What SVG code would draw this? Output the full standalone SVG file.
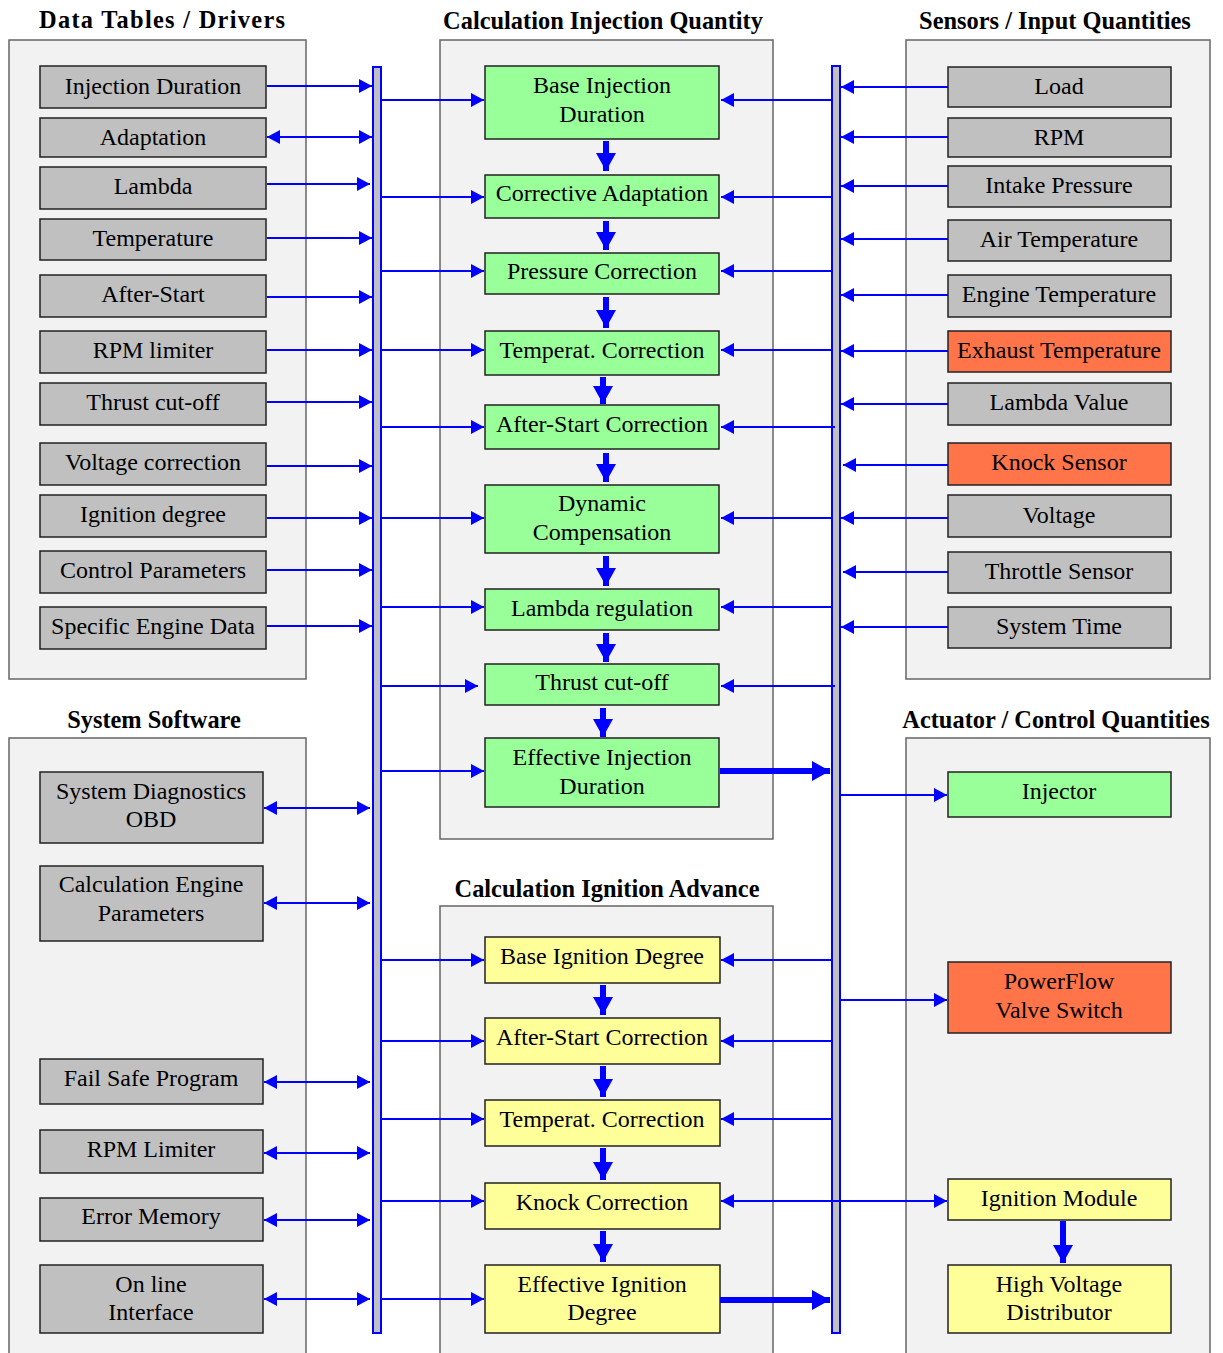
<svg xmlns="http://www.w3.org/2000/svg" width="1223" height="1353" viewBox="0 0 1223 1353">
<style>
.panel{fill:#F2F2F2;stroke:#666;stroke-width:1.5}
.g{fill:#C0C0C0;stroke:#222;stroke-width:1.5}
.gr{fill:#99FF99;stroke:#222;stroke-width:1.5}
.y{fill:#FFFF99;stroke:#222;stroke-width:1.5}
.o{fill:#FF7448;stroke:#222;stroke-width:1.5}
.bus{fill:#C0C0C0;stroke:#0000FF;stroke-width:2}
text{font-family:"Liberation Serif","Times New Roman",serif;font-size:24px;fill:#000;text-anchor:middle}
.t{font-weight:bold;font-size:24.4px}
.c line{stroke:#0000FF;stroke-width:2}
.c line.k{stroke-width:6}
</style>
<defs>
<marker id="a" markerUnits="userSpaceOnUse" markerWidth="13" markerHeight="14" refX="13" refY="7" orient="auto-start-reverse"><path d="M0,0 L13,7 L0,14 z" fill="#0000FF"/></marker>
<marker id="b" markerUnits="userSpaceOnUse" markerWidth="18" markerHeight="20" refX="18" refY="10" orient="auto"><path d="M0,0 L18,10 L0,20 z" fill="#0000FF"/></marker>
</defs>
<rect width="1223" height="1353" fill="#fff"/>
<g id="panels">
<rect class="panel" x="9" y="40" width="297" height="639"/>
<rect class="panel" x="440" y="40" width="333" height="799"/>
<rect class="panel" x="906" y="40" width="304" height="639"/>
<rect class="panel" x="9" y="738" width="297" height="630"/>
<rect class="panel" x="440" y="906" width="333" height="462"/>
<rect class="panel" x="906" y="738" width="304" height="630"/>
</g>
<g id="titles">
<text class="t" x="162" y="28" textLength="246">Data Tables / Drivers</text>
<text class="t" x="603" y="29">Calculation Injection Quantity</text>
<text class="t" x="1055" y="29">Sensors / Input Quantities</text>
<text class="t" x="154" y="728">System Software</text>
<text class="t" x="1056" y="728">Actuator / Control Quantities</text>
<text class="t" x="607" y="897">Calculation Ignition Advance</text>
</g>
<g id="bus-left"><rect class="bus" x="373" y="67" width="8" height="1266"/></g>
<g id="bus-right"><rect class="bus" x="832" y="66" width="8" height="1267"/></g>
<g id="n-injdur"><rect class="g" x="40" y="66" width="226" height="42"/><text x="153" y="94">Injection Duration</text></g>
<g id="n-adapt"><rect class="g" x="40" y="118" width="226" height="39"/><text x="153" y="145">Adaptation</text></g>
<g id="n-lambda"><rect class="g" x="40" y="167" width="226" height="42"/><text x="153" y="194">Lambda</text></g>
<g id="n-temp"><rect class="g" x="40" y="219" width="226" height="41"/><text x="153" y="246">Temperature</text></g>
<g id="n-afterstart"><rect class="g" x="40" y="275" width="226" height="42"/><text x="153" y="302">After-Start</text></g>
<g id="n-rpmlim"><rect class="g" x="40" y="331" width="226" height="42"/><text x="153" y="358">RPM limiter</text></g>
<g id="n-thrust"><rect class="g" x="40" y="383" width="226" height="42"/><text x="153" y="410">Thrust cut-off</text></g>
<g id="n-voltcorr"><rect class="g" x="40" y="443" width="226" height="42"/><text x="153" y="470">Voltage correction</text></g>
<g id="n-igndeg"><rect class="g" x="40" y="495" width="226" height="42"/><text x="153" y="522">Ignition degree</text></g>
<g id="n-ctrl"><rect class="g" x="40" y="551" width="226" height="42"/><text x="153" y="578">Control Parameters</text></g>
<g id="n-spec"><rect class="g" x="40" y="607" width="226" height="42"/><text x="153" y="634">Specific Engine Data</text></g>
<g id="n-base"><rect class="gr" x="485" y="66" width="234" height="73"/><text x="602" y="93">Base Injection</text><text x="602" y="122">Duration</text></g>
<g id="n-corr"><rect class="gr" x="485" y="175" width="234" height="43"/><text x="602" y="201">Corrective Adaptation</text></g>
<g id="n-press"><rect class="gr" x="485" y="253" width="234" height="41"/><text x="602" y="279">Pressure Correction</text></g>
<g id="n-tcorr"><rect class="gr" x="485" y="331" width="234" height="44"/><text x="602" y="358">Temperat. Correction</text></g>
<g id="n-ascorr"><rect class="gr" x="485" y="405" width="234" height="44"/><text x="602" y="432">After-Start Correction</text></g>
<g id="n-dyn"><rect class="gr" x="485" y="485" width="234" height="68"/><text x="602" y="511">Dynamic</text><text x="602" y="540">Compensation</text></g>
<g id="n-lreg"><rect class="gr" x="485" y="589" width="234" height="41"/><text x="602" y="616">Lambda regulation</text></g>
<g id="n-tco"><rect class="gr" x="485" y="664" width="234" height="41"/><text x="602" y="690">Thrust cut-off</text></g>
<g id="n-eff"><rect class="gr" x="485" y="738" width="234" height="69"/><text x="602" y="765">Effective Injection</text><text x="602" y="794">Duration</text></g>
<g id="n-load"><rect class="g" x="948" y="67" width="223" height="40"/><text x="1059" y="94">Load</text></g>
<g id="n-rpm"><rect class="g" x="948" y="118" width="223" height="39"/><text x="1059" y="145">RPM</text></g>
<g id="n-intake"><rect class="g" x="948" y="166" width="223" height="41"/><text x="1059" y="193">Intake Pressure</text></g>
<g id="n-air"><rect class="g" x="948" y="220" width="223" height="41"/><text x="1059" y="247">Air Temperature</text></g>
<g id="n-eng"><rect class="g" x="948" y="275" width="223" height="42"/><text x="1059" y="302">Engine Temperature</text></g>
<g id="n-exh"><rect class="o" x="948" y="331" width="223" height="41"/><text x="1059" y="358">Exhaust Temperature</text></g>
<g id="n-lval"><rect class="g" x="948" y="383" width="223" height="42"/><text x="1059" y="410">Lambda Value</text></g>
<g id="n-knock"><rect class="o" x="948" y="443" width="223" height="42"/><text x="1059" y="470">Knock Sensor</text></g>
<g id="n-volt"><rect class="g" x="948" y="495" width="223" height="42"/><text x="1059" y="523">Voltage</text></g>
<g id="n-throttle"><rect class="g" x="948" y="552" width="223" height="41"/><text x="1059" y="579">Throttle Sensor</text></g>
<g id="n-time"><rect class="g" x="948" y="607" width="223" height="41"/><text x="1059" y="634">System Time</text></g>
<g id="n-diag"><rect class="g" x="40" y="772" width="223" height="71"/><text x="151" y="799">System Diagnostics</text><text x="151" y="827">OBD</text></g>
<g id="n-calc"><rect class="g" x="40" y="866" width="223" height="75"/><text x="151" y="892">Calculation Engine</text><text x="151" y="921">Parameters</text></g>
<g id="n-fail"><rect class="g" x="40" y="1059" width="223" height="45"/><text x="151" y="1086">Fail Safe Program</text></g>
<g id="n-rpml"><rect class="g" x="40" y="1130" width="223" height="43"/><text x="151" y="1157">RPM Limiter</text></g>
<g id="n-err"><rect class="g" x="40" y="1198" width="223" height="43"/><text x="151" y="1224">Error Memory</text></g>
<g id="n-online"><rect class="g" x="40" y="1265" width="223" height="68"/><text x="151" y="1292">On line</text><text x="151" y="1320">Interface</text></g>
<g id="n-bign"><rect class="y" x="485" y="937" width="235" height="46"/><text x="602" y="964">Base Ignition Degree</text></g>
<g id="n-asign"><rect class="y" x="485" y="1018" width="235" height="46"/><text x="602" y="1045">After-Start Correction</text></g>
<g id="n-tign"><rect class="y" x="485" y="1100" width="235" height="46"/><text x="602" y="1127">Temperat. Correction</text></g>
<g id="n-kcorr"><rect class="y" x="485" y="1183" width="235" height="46"/><text x="602" y="1210">Knock Correction</text></g>
<g id="n-effign"><rect class="y" x="485" y="1265" width="235" height="68"/><text x="602" y="1292">Effective Ignition</text><text x="602" y="1320">Degree</text></g>
<g id="n-injector"><rect class="gr" x="948" y="772" width="223" height="45"/><text x="1059" y="799">Injector</text></g>
<g id="n-pf"><rect class="o" x="948" y="962" width="223" height="71"/><text x="1059" y="989">PowerFlow</text><text x="1059" y="1018">Valve Switch</text></g>
<g id="n-igmod"><rect class="y" x="948" y="1179" width="223" height="41"/><text x="1059" y="1206">Ignition Module</text></g>
<g id="n-hv"><rect class="y" x="948" y="1265" width="223" height="68"/><text x="1059" y="1292">High Voltage</text><text x="1059" y="1320">Distributor</text></g>
<g id="connectors" class="c">
<line x1="267" y1="86" x2="372" y2="86" marker-end="url(#a)"/>
<line x1="267" y1="137" x2="372" y2="137" marker-start="url(#a)" marker-end="url(#a)"/>
<line x1="267" y1="184" x2="370" y2="184" marker-end="url(#a)"/>
<line x1="267" y1="238" x2="372" y2="238" marker-end="url(#a)"/>
<line x1="267" y1="297" x2="372" y2="297" marker-end="url(#a)"/>
<line x1="267" y1="350" x2="372" y2="350" marker-end="url(#a)"/>
<line x1="267" y1="402" x2="372" y2="402" marker-end="url(#a)"/>
<line x1="267" y1="466" x2="372" y2="466" marker-end="url(#a)"/>
<line x1="267" y1="518" x2="372" y2="518" marker-end="url(#a)"/>
<line x1="267" y1="570" x2="372" y2="570" marker-end="url(#a)"/>
<line x1="267" y1="626" x2="372" y2="626" marker-end="url(#a)"/>
<line x1="264" y1="808" x2="370" y2="808" marker-start="url(#a)" marker-end="url(#a)"/>
<line x1="264" y1="903" x2="370" y2="903" marker-start="url(#a)" marker-end="url(#a)"/>
<line x1="264" y1="1082" x2="370" y2="1082" marker-start="url(#a)" marker-end="url(#a)"/>
<line x1="264" y1="1153" x2="370" y2="1153" marker-start="url(#a)" marker-end="url(#a)"/>
<line x1="264" y1="1220" x2="370" y2="1220" marker-start="url(#a)" marker-end="url(#a)"/>
<line x1="264" y1="1299" x2="370" y2="1299" marker-start="url(#a)" marker-end="url(#a)"/>
<line x1="381" y1="100" x2="484" y2="100" marker-end="url(#a)"/>
<line x1="381" y1="197" x2="484" y2="197" marker-end="url(#a)"/>
<line x1="381" y1="271" x2="484" y2="271" marker-end="url(#a)"/>
<line x1="381" y1="350" x2="484" y2="350" marker-end="url(#a)"/>
<line x1="381" y1="427" x2="484" y2="427" marker-end="url(#a)"/>
<line x1="381" y1="518" x2="484" y2="518" marker-end="url(#a)"/>
<line x1="381" y1="607" x2="484" y2="607" marker-end="url(#a)"/>
<line x1="381" y1="686" x2="478" y2="686" marker-end="url(#a)"/>
<line x1="381" y1="771" x2="484" y2="771" marker-end="url(#a)"/>
<line x1="381" y1="960" x2="484" y2="960" marker-end="url(#a)"/>
<line x1="381" y1="1041" x2="484" y2="1041" marker-end="url(#a)"/>
<line x1="381" y1="1119" x2="484" y2="1119" marker-end="url(#a)"/>
<line x1="381" y1="1201" x2="484" y2="1201" marker-end="url(#a)"/>
<line x1="381" y1="1299" x2="484" y2="1299" marker-end="url(#a)"/>
<line x1="831" y1="100" x2="721" y2="100" marker-end="url(#a)"/>
<line x1="831" y1="197" x2="721" y2="197" marker-end="url(#a)"/>
<line x1="831" y1="271" x2="721" y2="271" marker-end="url(#a)"/>
<line x1="831" y1="350" x2="721" y2="350" marker-end="url(#a)"/>
<line x1="835" y1="427" x2="721" y2="427" marker-end="url(#a)"/>
<line x1="831" y1="518" x2="721" y2="518" marker-end="url(#a)"/>
<line x1="831" y1="607" x2="721" y2="607" marker-end="url(#a)"/>
<line x1="835" y1="686" x2="721" y2="686" marker-end="url(#a)"/>
<line x1="831" y1="960" x2="721" y2="960" marker-end="url(#a)"/>
<line x1="831" y1="1041" x2="721" y2="1041" marker-end="url(#a)"/>
<line x1="831" y1="1119" x2="721" y2="1119" marker-end="url(#a)"/>
<line x1="721" y1="1201" x2="947" y2="1201" marker-start="url(#a)" marker-end="url(#a)"/>
<line x1="948" y1="87" x2="841" y2="87" marker-end="url(#a)"/>
<line x1="948" y1="137" x2="841" y2="137" marker-end="url(#a)"/>
<line x1="948" y1="186" x2="841" y2="186" marker-end="url(#a)"/>
<line x1="948" y1="239" x2="841" y2="239" marker-end="url(#a)"/>
<line x1="948" y1="295" x2="841" y2="295" marker-end="url(#a)"/>
<line x1="948" y1="351" x2="841" y2="351" marker-end="url(#a)"/>
<line x1="948" y1="404" x2="841" y2="404" marker-end="url(#a)"/>
<line x1="948" y1="465" x2="843" y2="465" marker-end="url(#a)"/>
<line x1="948" y1="518" x2="841" y2="518" marker-end="url(#a)"/>
<line x1="948" y1="572" x2="843" y2="572" marker-end="url(#a)"/>
<line x1="948" y1="627" x2="841" y2="627" marker-end="url(#a)"/>
<line x1="841" y1="795" x2="947" y2="795" marker-end="url(#a)"/>
<line x1="841" y1="1000" x2="947" y2="1000" marker-end="url(#a)"/>
<line class="k" x1="720" y1="771" x2="830" y2="771" marker-end="url(#b)"/>
<line class="k" x1="720" y1="1300" x2="830" y2="1300" marker-end="url(#b)"/>
<line class="k" x1="606" y1="141" x2="606" y2="171" marker-end="url(#b)"/>
<line class="k" x1="606" y1="221" x2="606" y2="250" marker-end="url(#b)"/>
<line class="k" x1="606" y1="297" x2="606" y2="328" marker-end="url(#b)"/>
<line class="k" x1="603" y1="377" x2="603" y2="404" marker-end="url(#b)"/>
<line class="k" x1="606" y1="453" x2="606" y2="482" marker-end="url(#b)"/>
<line class="k" x1="606" y1="556" x2="606" y2="586" marker-end="url(#b)"/>
<line class="k" x1="606" y1="633" x2="606" y2="662" marker-end="url(#b)"/>
<line class="k" x1="603" y1="708" x2="603" y2="737" marker-end="url(#b)"/>
<line class="k" x1="603" y1="985" x2="603" y2="1015" marker-end="url(#b)"/>
<line class="k" x1="603" y1="1066" x2="603" y2="1097" marker-end="url(#b)"/>
<line class="k" x1="603" y1="1148" x2="603" y2="1180" marker-end="url(#b)"/>
<line class="k" x1="603" y1="1231" x2="603" y2="1262" marker-end="url(#b)"/>
<line class="k" x1="1063" y1="1221" x2="1063" y2="1263" marker-end="url(#b)"/>
</g>
</svg>
